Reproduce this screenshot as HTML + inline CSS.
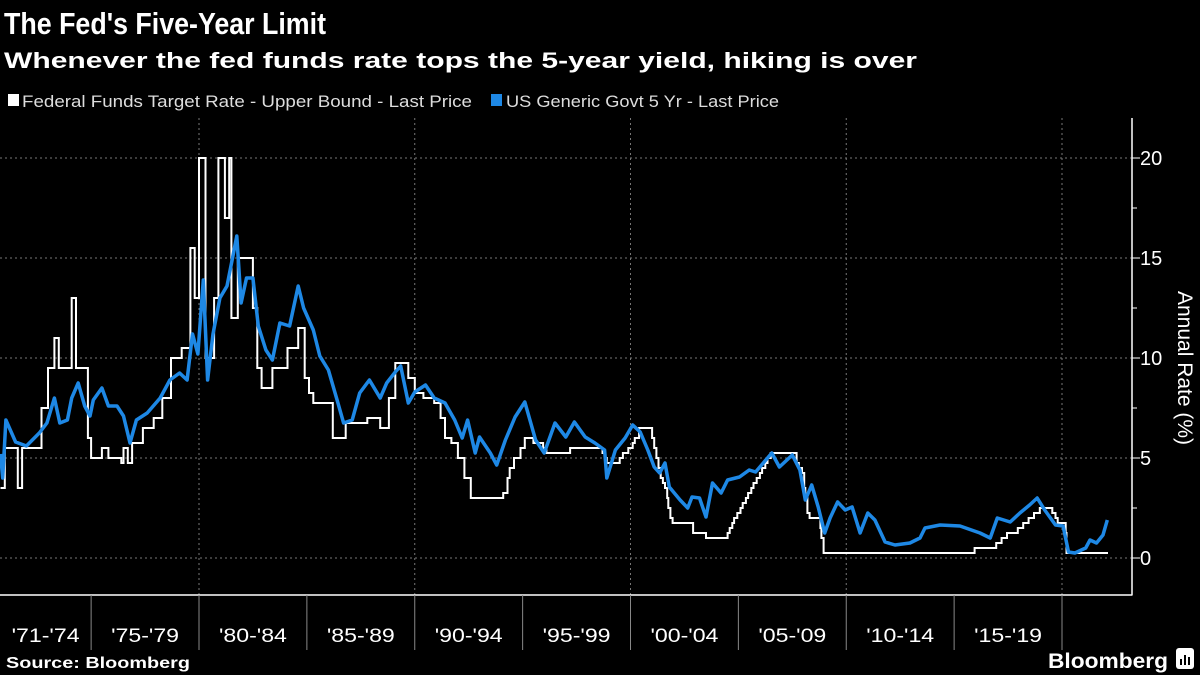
<!DOCTYPE html>
<html><head><meta charset="utf-8"><style>
html,body{margin:0;padding:0;background:#000;}
svg{display:block;font-family:"Liberation Sans",sans-serif;}
</style></head><body>
<svg id="chart" width="1200" height="675" viewBox="0 0 1200 675" xmlns="http://www.w3.org/2000/svg">
<rect x="0" y="0" width="1200" height="675" fill="#000"/>
<text x="4" y="34" font-size="31" font-weight="bold" fill="#fff" textLength="322" lengthAdjust="spacingAndGlyphs">The Fed's Five-Year Limit</text>
<text x="4" y="68" font-size="22" font-weight="bold" fill="#fff" textLength="913" lengthAdjust="spacingAndGlyphs">Whenever the fed funds rate tops the 5-year yield, hiking is over</text>
<g>
<rect x="8" y="94" width="11" height="12" fill="#fff"/>
<text x="22" y="107" font-size="17" fill="#ddd" textLength="450" lengthAdjust="spacingAndGlyphs">Federal Funds Target Rate - Upper Bound - Last Price</text>
<rect x="491" y="94" width="11" height="12" fill="#1e88e5"/>
<text x="506" y="107" font-size="17" fill="#ddd" textLength="273" lengthAdjust="spacingAndGlyphs">US Generic Govt 5 Yr - Last Price</text>
</g>
<g id="grid"></g>
<g id="axes"></g>
<g id="series"></g>
<text transform="translate(1178,368) rotate(90)" text-anchor="middle" font-size="21" fill="#fff">Annual Rate (%)</text>
<text x="6" y="668" font-size="16" font-weight="bold" fill="#fff" textLength="184" lengthAdjust="spacingAndGlyphs">Source: Bloomberg</text>
<text x="1048" y="668" font-size="21" font-weight="bold" fill="#fff" textLength="120" lengthAdjust="spacingAndGlyphs">Bloomberg</text>
<g>
<rect x="1176" y="648" width="18" height="21" rx="3" fill="#fff"/>
<rect x="1180" y="659" width="2" height="6" fill="#000"/><rect x="1184" y="655" width="2" height="10" fill="#000"/><rect x="1188" y="657" width="2" height="8" fill="#000"/>
</g>
</svg>
<script>
const yTicks=[0,5,10,15,20];
const minorTicks=[2.5,7.5,12.5,17.5];
const periodStarts=[1975,1980,1985,1990,1995,2000,2005,2010,2015,2020];
const periodLabels=["'71-'74","'75-'79","'80-'84","'85-'89","'90-'94","'95-'99","'00-'04","'05-'09","'10-'14","'15-'19"];
const gridYears=[1980,1990,2000,2010,2020];
const fedYears=[
1970.8,1971.0,1971.6,1971.8,1972.7,1973.0,1973.3,1973.5,1974.1,1974.3,
1974.85,1975.0,1975.5,1975.8,1976.4,1976.5,1976.7,1976.9,1977.4,1977.9,
1978.3,1978.7,1979.2,1979.6,1979.8,1980.0,1980.3,1980.7,1980.9,1981.2,
1981.4,1981.5,1981.8,1982.5,1982.7,1982.9,1983.4,1984.1,1984.6,1984.9,
1985.1,1985.3,1986.2,1986.8,1987.8,1988.4,1988.8,1989.1,1989.7,1990.0,
1990.4,1990.9,1991.2,1991.4,1991.7,1992.0,1992.3,1992.6,1994.1,1994.3,
1994.4,1994.6,1994.9,1995.1,1995.5,1995.95,1996.1,1997.2,1998.7,1998.8,
1998.9,1999.5,1999.65,1999.9,2000.1,2000.2,2000.4,2001.0,2001.1,2001.2,
2001.3,2001.4,2001.5,2001.6,2001.7,2001.75,2001.85,2001.95,2002.9,2003.5,
2004.5,2004.6,2004.72,2004.8,2004.95,2005.1,2005.2,2005.35,2005.45,2005.6,
2005.7,2005.85,2006.0,2006.1,2006.25,2006.35,2006.5,2007.7,2007.8,2007.95,
2008.05,2008.1,2008.2,2008.3,2008.8,2008.85,2008.95,2015.95,2016.95,2017.2,
2017.45,2017.95,2018.2,2018.45,2018.7,2018.97,2019.55,2019.7,2019.8,2020.17,
2020.21,2022.13];
const fedRates=[
3.5,5.5,3.5,5.5,7.5,9.5,11,9.5,13,9.5,
6,5,5.5,5,4.75,5.5,4.75,5.75,6.5,7,
8,10,10.5,15.5,13,20,10,13,20,17,
20,12,15,12.5,9.5,8.5,9.5,10.5,11.5,9,
8.25,7.75,6,6.75,7,6.5,8,9.75,9,8.25,
8,7.75,7,6,5.75,5,4,3,3.25,4,
4.5,5,5.5,6,5.75,5.5,5.25,5.5,5.25,5,
4.75,5,5.25,5.5,5.75,6,6.5,6,5.5,5,
4.5,4,3.75,3.5,3,2.5,2,1.75,1.25,1,
1.25,1.5,1.75,2,2.25,2.5,2.75,3,3.25,3.5,
3.75,4,4.25,4.5,4.75,5,5.25,4.75,4.5,4.25,
3.5,3,2.25,2,1.5,1,0.25,0.5,0.75,1,
1.25,1.5,1.75,2,2.25,2.5,2.25,2,1.75,1.25,
0.25,0.25];
const yldYears=[1970.8,1970.9,1971.05,1971.5,1972.0,1972.6,1972.95,1973.3,1973.55,1973.9,1974.1,1974.4,1974.7,1974.95,1975.1,1975.5,1975.8,1976.2,1976.5,1976.8,1977.1,1977.6,1978.2,1978.65,1979.1,1979.45,1979.7,1979.95,1980.2,1980.4,1980.65,1980.97,1981.3,1981.6,1981.75,1981.95,1982.2,1982.5,1982.75,1983.1,1983.4,1983.75,1984.2,1984.6,1984.85,1985.3,1985.6,1986.0,1986.4,1986.7,1987.1,1987.45,1987.9,1988.4,1988.7,1989.1,1989.35,1989.7,1990.0,1990.5,1990.9,1991.4,1991.85,1992.2,1992.45,1992.8,1993.0,1993.5,1993.8,1994.2,1994.65,1995.1,1995.6,1996.0,1996.5,1997.0,1997.4,1997.9,1998.35,1998.8,1998.9,1999.3,1999.75,2000.1,2000.45,2000.8,2001.1,2001.35,2001.6,2001.8,2002.3,2002.65,2002.85,2003.2,2003.5,2003.8,2004.2,2004.5,2005.05,2005.5,2005.8,2006.55,2006.9,2007.5,2007.85,2008.1,2008.4,2008.7,2009.0,2009.25,2009.6,2009.95,2010.27,2010.64,2011.0,2011.33,2011.8,2012.26,2012.95,2013.42,2013.65,2014.35,2015.27,2016.2,2016.67,2017.0,2017.6,2018.05,2018.5,2018.85,2019.2,2019.7,2020.05,2020.3,2020.6,2021.1,2021.3,2021.6,2021.9,2022.1];
const yldValues=[5.2,4.0,6.9,5.8,5.6,6.25,6.75,8.0,6.75,6.9,8.0,8.75,7.6,7.1,7.9,8.5,7.6,7.6,7.1,5.75,6.9,7.25,8.0,8.9,9.25,8.9,11.2,10.2,13.9,8.9,11.2,13.0,13.6,15.25,16.1,12.75,14.0,14.0,11.6,10.4,9.9,11.75,11.6,13.6,12.5,11.4,10.1,9.4,7.9,6.75,6.9,8.25,8.9,8.0,8.75,9.3,9.6,7.75,8.3,8.65,8.0,7.75,6.9,6.0,6.9,5.25,6.05,5.25,4.65,5.9,7.05,7.8,5.9,5.25,6.75,6.05,6.8,6.05,5.75,5.4,4.0,5.4,6.0,6.65,6.3,5.4,4.55,4.25,4.75,3.55,2.9,2.5,3.05,3.0,2.05,3.75,3.25,3.9,4.05,4.4,4.3,5.25,4.55,5.15,4.4,2.9,3.65,2.55,1.25,2.0,2.8,2.4,2.55,1.25,2.25,1.9,0.8,0.65,0.75,1.0,1.5,1.65,1.6,1.25,1.0,2.0,1.8,2.25,2.65,3.0,2.4,1.65,1.6,0.3,0.25,0.5,0.9,0.75,1.15,1.9];

const NS='http://www.w3.org/2000/svg';
function xScale(yr){return 199+(yr-1980)*21.575;}
function yScale(v){return 558-v*20;}
function mk(tag,attrs,parent){const e=document.createElementNS(NS,tag);for(const k in attrs)e.setAttribute(k,attrs[k]);parent.appendChild(e);return e;}
const grid=document.getElementById('grid'),axes=document.getElementById('axes'),series=document.getElementById('series');
yTicks.forEach(v=>{
  const l=mk('line',{x1:0,x2:1132,y1:yScale(v),y2:yScale(v),stroke:'#777','stroke-width':1,'stroke-dasharray':'2,3'},grid);
  
  
  const t=mk('line',{x1:1132,x2:1140,y1:yScale(v),y2:yScale(v),stroke:'#fff','stroke-width':1},axes);
  
  
  const tx=mk('text',{x:1140,y:yScale(v)+7,'font-size':20,fill:'#fff'},axes);
  tx.textContent=String(v);
  
  
});
minorTicks.forEach(v=>{
  const t=mk('line',{x1:1132,x2:1137,y1:yScale(v),y2:yScale(v),stroke:'#fff','stroke-width':1},axes);
  
  
});
gridYears.forEach(yr=>{
  const l=mk('line',{x1:xScale(yr),x2:xScale(yr),y1:118,y2:595,stroke:'#777','stroke-width':1,'stroke-dasharray':'2,3'},grid);
  
  
});
const bx=mk('line',{x1:0,x2:1132.5,y1:595,y2:595,stroke:'#fff','stroke-width':1.5},axes);


const ax=mk('line',{x1:1132,x2:1132,y1:118,y2:595,stroke:'#fff','stroke-width':1.5},axes);


const bounds=[1970.78].concat(periodStarts);
periodStarts.forEach(yr=>{
  const l=mk('line',{x1:xScale(yr),x2:xScale(yr),y1:595,y2:650,stroke:'#888','stroke-width':1},axes);
  
  
});
periodLabels.forEach((lab,i)=>{
  const cx=(xScale(bounds[i])+xScale(bounds[i+1]))/2;
  const t=mk('text',{x:cx,y:642,'font-size':19,fill:'#fff','text-anchor':'middle',textLength:68,lengthAdjust:'spacingAndGlyphs'},axes);
  t.textContent=lab;
  
  
});
let d='';
fedYears.forEach((yr,i)=>{
  const x=xScale(yr).toFixed(1),y=yScale(fedRates[i]).toFixed(1);
  if(i===0)d+='M'+x+','+y;else d+='H'+x+'V'+y;
});
const fp=mk('path',{d:d,fill:'none',stroke:'#fff','stroke-width':2},series);


let d2='';
yldYears.forEach((yr,i)=>{d2+=(i?'L':'M')+xScale(yr).toFixed(1)+','+yScale(yldValues[i]).toFixed(1);});
const yp=mk('path',{d:d2,fill:'none',stroke:'#1e88e5','stroke-width':3.5,'stroke-linejoin':'round'},series);


</script>
</body></html>
